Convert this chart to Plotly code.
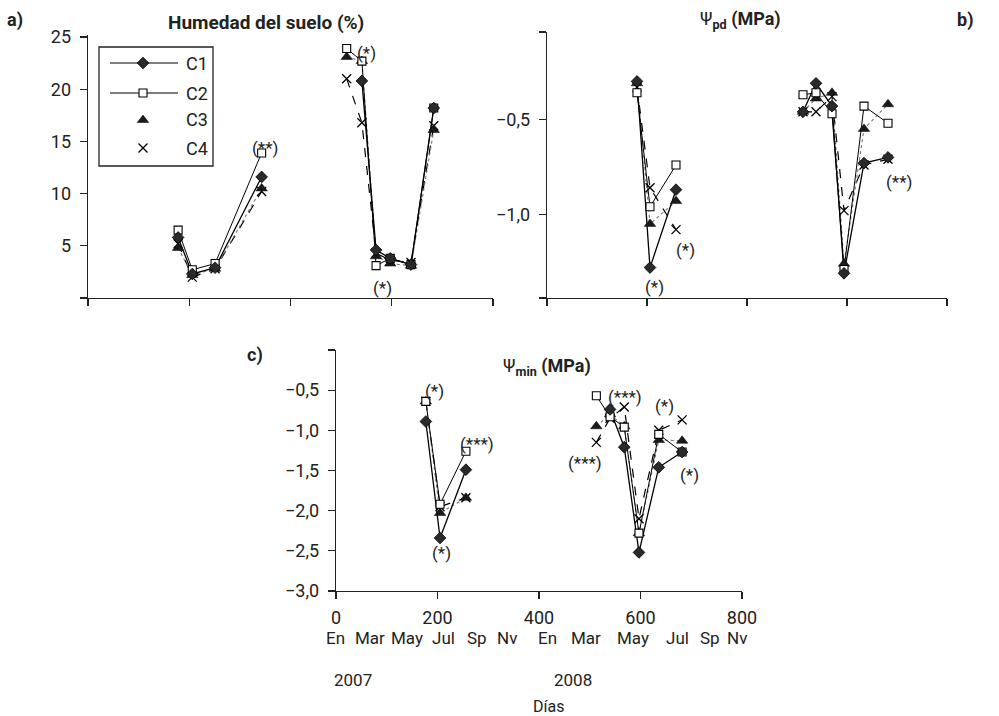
import plotly.graph_objects as go

W, H = 999, 716
FONT = "Roboto, Liberation Sans, sans-serif"

# ---------------- data ----------------
series_names = ["C1", "C2", "C3", "C4"]

# a) Humedad del suelo (%)
days_a_2007 = [178, 206, 251, 343]
days_a_2008 = [511, 541, 569, 597, 638, 683]
hum_2007 = {
    "C1": [5.8, 2.3, 2.9, 11.6],
    "C2": [6.5, 2.7, 3.3, 13.9],
    "C3": [4.8, 2.2, 2.8, 10.5],
    "C4": [5.2, 2.0, 2.8, 10.2],
}
hum_2008 = {
    "C1": [None, 20.8, 4.6, 3.8, 3.2, 18.2],
    "C2": [23.9, 22.7, 3.1, 3.8, 3.2, 18.2],
    "C3": [23.1, 22.7, 4.0, 3.3, 3.1, 16.1],
    "C4": [21.0, 16.8, 4.3, 3.6, 3.4, 16.5],
}

# b) Psi pd (MPa)
days_b_2007 = [180, 206, 258]
days_b_2008 = [512, 538, 570, 594, 634, 682]
pd_2007 = {
    "C1": [-0.30, -1.28, -0.87],
    "C2": [-0.36, -0.96, -0.74],
    "C3": [-0.31, -1.05, -0.93],
    "C4": [-0.33, -0.86, -1.08],
}
pd_2008 = {
    "C1": [-0.46, -0.31, -0.43, -1.31, -0.73, -0.70],
    "C2": [-0.37, -0.36, -0.47, -1.29, -0.43, -0.52],
    "C3": [-0.46, -0.39, -0.36, -1.26, -0.55, -0.42],
    "C4": [-0.46, -0.46, -0.38, -0.98, -0.74, -0.71],
}

# c) Psi min (MPa)
days_c_2007 = [177, 205, 256]
days_c_2008 = [513, 540, 568, 597, 636, 682]
min_2007 = {
    "C1": [-0.89, -2.34, -1.49],
    "C2": [-0.64, -1.92, -1.26],
    "C3": [-0.64, -2.03, -1.84],
    "C4": [-0.64, -1.95, -1.84],
}
min_2008 = {
    "C1": [None, -0.74, -1.21, -2.52, -1.46, -1.27],
    "C2": [-0.57, -0.83, -0.96, -2.28, -1.05, -1.27],
    "C3": [-0.95, -0.80, -0.95, -2.28, -1.12, -1.13],
    "C4": [-1.15, -0.85, -0.71, -2.10, -1.00, -0.87],
}

# significance labels: (panel, day, value, text)
sig_labels = [
    ("a", 350, 14.4, "(**)"),
    ("a", 551, 23.5, "(*)"),
    ("a", 581, 1.0, "(*)"),
    ("b", 214, -1.38, "(*)"),
    ("b", 276, -1.19, "(*)"),
    ("b", 704, -0.83, "(**)"),
    ("c", 195, -0.51, "(*)"),
    ("c", 278, -1.17, "(***)"),
    ("c", 207, -2.53, "(*)"),
    ("c", 569, -0.59, "(***)"),
    ("c", 491, -1.41, "(***)"),
    ("c", 648, -0.70, "(*)"),
    ("c", 697, -1.56, "(*)"),
]

month_labels = ["En", "Mar", "May", "Jul", "Sp", "Nv", "En", "Mar", "May", "Jul", "Sp", "Nv"]
year_labels = ["2007", "2008"]
x_ticks = [0, 200, 400, 600, 800]

# ---------------- styles ----------------
def px_x(p):
    return p / W

def px_y(p):
    return 1 - p / H

line_style = {
    "C1": dict(color="black", width=1.3, dash="solid"),
    "C2": dict(color="black", width=1.0, dash="solid"),
    "C3": dict(color="#777777", width=1.1, dash="dot"),
    "C4": dict(color="black", width=1.2, dash="dash"),
}
marker_style = {
    "C1": dict(symbol="diamond", size=9, color="#2a2a2a", line=dict(color="black", width=0.8)),
    "C2": dict(symbol="square", size=8, color="white", line=dict(color="black", width=1.1)),
    "C3": dict(symbol="triangle-up", size=10, color="#1a1a1a", line=dict(color="black", width=0.5)),
    "C4": dict(symbol="x-thin", size=9, color="black", line=dict(color="black", width=1.3)),
}

fig = go.Figure()

panels = [
    ("a", "x", "y", days_a_2007, days_a_2008, hum_2007, hum_2008),
    ("b", "x2", "y2", days_b_2007, days_b_2008, pd_2007, pd_2008),
    ("c", "x3", "y3", days_c_2007, days_c_2008, min_2007, min_2008),
]

for pname, xa, ya, d07, d08, v07, v08 in panels:
    xs = d07 + [None] + d08
    for s in ["C4", "C3", "C2", "C1"]:
        ys = v07[s] + [None] + v08[s]
        fig.add_trace(go.Scatter(
            x=xs, y=ys, xaxis=xa, yaxis=ya, mode="lines",
            line=line_style[s], showlegend=False, hoverinfo="skip",
            connectgaps=False,
        ))
    for s in ["C4", "C3", "C2", "C1"]:
        ys = v07[s] + [None] + v08[s]
        fig.add_trace(go.Scatter(
            x=xs, y=ys, xaxis=xa, yaxis=ya, mode="markers",
            marker=marker_style[s], showlegend=False, name=s,
        ))

# ---- custom legend on a hidden overlay axis (pixel coordinates) ----
leg_rows_px = [63, 93, 120, 148]
leg_marker_x = 143
for s, yp in zip(series_names, leg_rows_px):
    fig.add_trace(go.Scatter(
        x=[leg_marker_x], y=[yp], xaxis="x4", yaxis="y4", mode="markers",
        marker=marker_style[s], showlegend=False, hoverinfo="skip",
    ))

shapes = [dict(type="rect", xref="x4", yref="y4", x0=99, x1=213, y0=47, y1=166,
               line=dict(color="#222", width=1.3), fillcolor="rgba(0,0,0,0)", layer="below")]
for s, yp in zip(series_names, leg_rows_px):
    if s in ("C1", "C2"):
        shapes.append(dict(type="line", xref="x4", yref="y4", x0=110, x1=178, y0=yp, y1=yp,
                           line=dict(color="black", width=1.2), layer="below"))

axis_common = dict(
    showline=True, linecolor="#222", linewidth=1.3, showgrid=False, zeroline=False,
    ticks="outside", ticklen=7, tickwidth=1.3, tickcolor="#222", automargin=False,
    tickfont=dict(family=FONT, size=18, color="#222"),
)

fig.update_layout(
    width=W, height=H,
    margin=dict(l=0, r=0, t=0, b=0, pad=0, autoexpand=False),
    paper_bgcolor="white", plot_bgcolor="rgba(0,0,0,0)",
    font=dict(family=FONT, size=17, color="#222"),
    showlegend=False,
    xaxis=dict(domain=[px_x(88), px_x(493)], range=[0, 800], anchor="y",
               tickvals=x_ticks, showticklabels=False, **axis_common),
    yaxis=dict(domain=[px_y(298), px_y(35)], range=[0, 25.2], anchor="x",
               tickvals=[0, 5, 10, 15, 20, 25], ticktext=["", "5", "10", "15", "20", "25"],
               ticklabelstandoff=5, **axis_common),
    xaxis2=dict(domain=[px_x(547), px_x(947)], range=[0, 800], anchor="y2",
                tickvals=x_ticks, showticklabels=False, **axis_common),
    yaxis2=dict(domain=[px_y(298), px_y(32)], range=[-1.44, -0.04], anchor="x2",
                tickvals=[-1.44, -1.0, -0.5, -0.04], ticktext=["", "\u22121,0", "\u22120,5", ""],
                ticklabelstandoff=5, **axis_common),
    xaxis3=dict(domain=[px_x(336), px_x(742)], range=[0, 800], anchor="y3",
                tickvals=x_ticks, ticktext=[str(v) for v in x_ticks],
                ticklabelstandoff=3, **axis_common),
    yaxis3=dict(domain=[px_y(591), px_y(350)], range=[-3, 0], anchor="x3",
                tickvals=[-3, -2.5, -2, -1.5, -1, -0.5, 0],
                ticktext=["\u22123,0", "\u22122,5", "\u22122,0", "\u22121,5", "\u22121,0", "\u22120,5", ""],
                ticklabelstandoff=5, **axis_common),
    xaxis4=dict(domain=[0, 1], range=[0, W], anchor="y4", visible=False, fixedrange=True),
    yaxis4=dict(domain=[0, 1], range=[H, 0], anchor="x4", visible=False, fixedrange=True),
    shapes=shapes,
)

ann = []
ref = {"a": ("x", "y"), "b": ("x2", "y2"), "c": ("x3", "y3")}
for p, d, v, t in sig_labels:
    xr, yr = ref[p]
    ann.append(dict(x=d, y=v, xref=xr, yref=yr, text=t, showarrow=False,
                    xanchor="center", yanchor="middle",
                    font=dict(family=FONT, size=17, color="#222")))

def paper_text(text, xp, yp, size=17, bold=False, xanchor="center"):
    if bold:
        text = f"<b>{text}</b>"
    return dict(x=px_x(xp), y=px_y(yp), xref="paper", yref="paper", showarrow=False,
                xanchor=xanchor, yanchor="middle", text=text,
                font=dict(family=FONT, size=size, color="#222"))

ann.append(paper_text("<b>Humedad del suelo (%)</b>", 266, 22, 19))
ann.append(paper_text("\u03a8<sub><b>pd</b></sub><b> (MPa)</b>", 740, 20, 18))
ann.append(paper_text("\u03a8<sub><b>min</b></sub><b> (MPa)</b>", 547, 367, 18))
for t, xp, yp in [("a)", 15, 20), ("b)", 965, 20), ("c)", 255, 355)]:
    ann.append(paper_text(t, xp, yp, 18, bold=True))

for s, yp in zip(series_names, leg_rows_px):
    ann.append(paper_text(s, 184, yp, 18, xanchor="left"))

month_px = [335, 370, 407, 443, 477, 507, 547, 586, 633, 677, 710, 737]
for t, xp in zip(month_labels, month_px):
    ann.append(paper_text(t, xp, 638, 17))
for t, xp in zip(year_labels, [353, 573]):
    ann.append(paper_text(t, xp, 680, 17))
ann.append(paper_text("D\u00edas", 548, 706, 16))

fig.update_layout(annotations=ann)

fig.write_html(
    "out.html",
    config={"displayModeBar": False, "staticPlot": True},
    post_script="document.body.style.margin='0px';document.body.style.overflow='hidden';",
)
